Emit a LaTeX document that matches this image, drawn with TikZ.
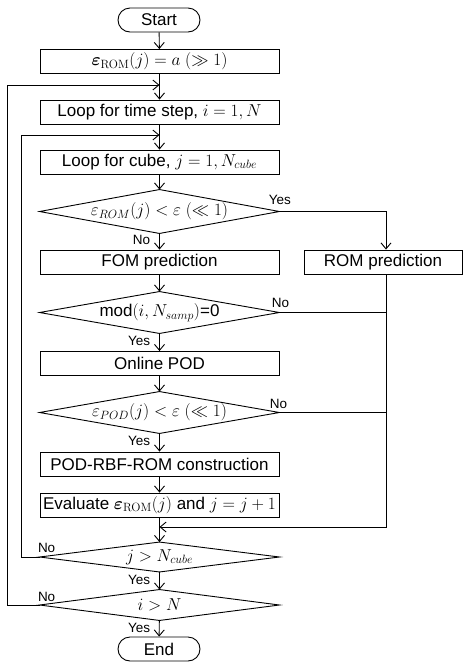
\documentclass[tikz,border=0pt]{standalone}
\usepackage{amsmath,bm}
\usepackage[no-math]{fontspec}
\setmainfont{Liberation Sans}
\usetikzlibrary{arrows.meta}

\begin{document}
\begin{tikzpicture}[x=1pt,y=-1pt,
  line width=0.9pt,
  every node/.style={font=\fontsize{17}{20}\selectfont, inner sep=0pt},
  proc/.style={draw, rectangle, minimum width=239pt, minimum height=24pt},
  term/.style={draw, rectangle, rounded corners=12pt, minimum width=82pt, minimum height=24pt},
  cond/.style={rectangle, minimum width=239pt, minimum height=#1},
  lab/.style={font=\fontsize{13.5}{15}\selectfont},
  arr/.style={-{Straight Barb[length=6pt,width=10pt]}},
]
\useasboundingbox (0,0) rectangle (463,662);

% flow nodes
\node[term] (start) at (159,20) {Start};
\node[proc] (init) at (159.5,61.5) {$\bm{\varepsilon}_{\mathrm{ROM}}(j)=a\ (\gg 1)$};
\node[proc] (tloop) at (159.5,112) {Loop for time step, $i=1,N$};
\node[proc] (cloop) at (159.5,162) {Loop for cube, $j=1,N_{cube}$};
\node[cond=43pt] (c1) at (159.5,211.5) {$\varepsilon_{ROM}(j)<\varepsilon\ (\ll 1)$};
\node[proc] (fom) at (159.5,262) {FOM prediction};
\node[proc, minimum width=158pt] (rom) at (383,262) {ROM prediction};
\node[cond=41pt] (c2) at (159.5,312.5) {mod$(i,N_{samp})$=0};
\node[proc] (pod) at (159.5,363.5) {Online POD};
\node[cond=41pt] (c3) at (159.5,412.5) {$\varepsilon_{POD}(j)<\varepsilon\ (\ll 1)$};
\node[proc] (build) at (159.5,464) {POD-RBF-ROM construction};
\node[proc] (eval) at (159.5,505) {Evaluate $\bm{\varepsilon}_{\mathrm{ROM}}(j)$ and $j=j+1$};
\node[cond=29pt] (c4) at (159.5,557) {$j>N_{cube}$};
\node[cond=30pt] (c5) at (159.5,605) {$i>N$};
\node[term] (end) at (159,649) {End};

% decision outlines
\foreach \d in {c1,c2,c3,c4,c5}
  \draw (\d.north) -- (\d.east) -- (\d.south) -- (\d.west) -- cycle;

% routing columns and junctions
\coordinate (rx) at (386,0);
\coordinate (ox) at (7,0);
\coordinate (ix) at (21,0);
\coordinate (j1) at (159.5,85);
\coordinate (j2) at (159.5,135);
\coordinate (j3) at (159.5,527);

% main flow
\draw[arr] (start) -- (init);
\draw[arr] (init) -- (tloop);
\draw[arr] (tloop) -- (cloop);
\draw[arr] (cloop) -- (c1);
\draw[arr] (c1) -- (fom);
\draw[arr] (fom) -- (c2);
\draw[arr] (c2) -- (pod);
\draw[arr] (pod) -- (c3);
\draw[arr] (c3) -- (build);
\draw[arr] (build) -- (eval);
\draw[arr] (eval) -- (c4);
\draw[arr] (c4) -- (c5);
\draw[arr] (c5) -- (end);

% ROM branch and merges
\draw[arr] (c1.east) -- (c1.east -| rx) -- (rx |- rom.north);
\draw (c2.east) -- (c2.east -| rx);
\draw (c3.east) -- (c3.east -| rx);
\draw[arr] (rx |- rom.south) -- (rx |- j3) -- (j3);

% loops back
\draw[arr] (c4.west) -- (c4.west -| ix) -- (ix |- j2) -- (j2);
\draw[arr] (c5.west) -- (c5.west -| ox) -- (ox |- j1) -- (j1);

% branch labels
\node[lab, anchor=north east] at ([xshift=-9pt,yshift=-1pt]c1.south) {No};
\node[lab, anchor=north east] at ([xshift=-9pt,yshift=-2pt]c2.south) {Yes};
\node[lab, anchor=north east] at ([xshift=-9pt,yshift=-2pt]c3.south) {Yes};
\node[lab, anchor=north east] at ([xshift=-9pt,yshift=-3pt]c4.south) {Yes};
\node[lab, anchor=north east] at ([xshift=-9pt,yshift=-2pt]c5.south) {Yes};
\node[lab, anchor=south west] at ([xshift=-11pt,yshift=6pt]c1.east) {Yes};
\node[lab, anchor=south west] at ([xshift=-8pt,yshift=4.5pt]c2.east) {No};
\node[lab, anchor=south west] at ([xshift=-10pt,yshift=3.5pt]c3.east) {No};
\node[lab, anchor=south west] at ([xshift=-2pt,yshift=4pt]c4.west) {No};
\node[lab, anchor=south west] at ([xshift=-2pt,yshift=3pt]c5.west) {No};
\end{tikzpicture}
\end{document}
